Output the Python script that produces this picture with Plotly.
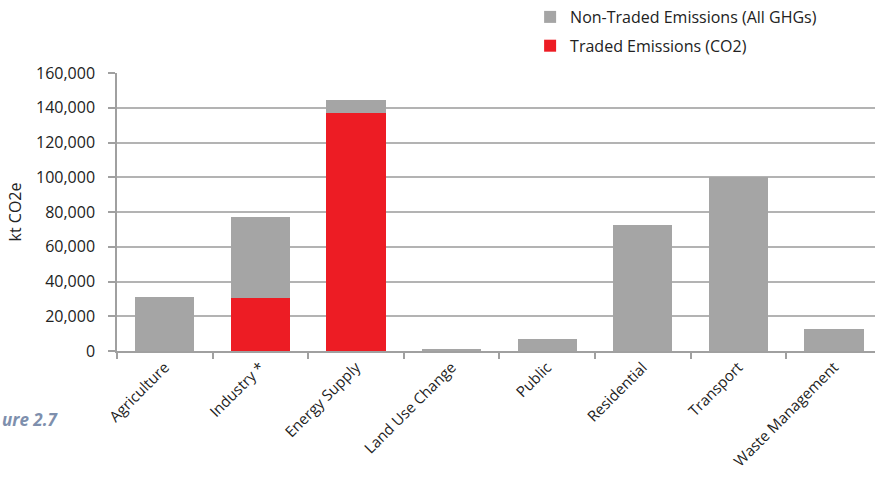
import plotly.graph_objects as go

categories = ["Agriculture", "Industry *", "Energy Supply", "Land Use Change",
              "Public", "Residential", "Transport", "Waste Management"]
traded = [0, 30300, 136800, 0, 0, 0, 0, 0]
non_traded_total = [31300, 77000, 144500, 1400, 7000, 72300, 100100, 12700]
non_traded = [t - r for t, r in zip(non_traded_total, traded)]
y_ticks = [0, 20000, 40000, 60000, 80000, 100000, 120000, 140000, 160000]

GREY = "#A5A5A5"
RED = "#ED1C24"
FONT = "Open Sans"

fig = go.Figure()
fig.add_trace(go.Bar(x=categories, y=traded, name="Traded Emissions (CO2)",
                     marker=dict(color=RED, line=dict(width=0)),
                     legendrank=2, legendgroup="b"))
fig.add_trace(go.Bar(x=categories, y=non_traded, name="Non-Traded Emissions (All GHGs)",
                     marker=dict(color=GREY, line=dict(width=0)),
                     legendrank=1, legendgroup="a"))

fig.update_layout(
    width=875, height=494,
    barmode="stack", bargap=0.38,
    paper_bgcolor="white", plot_bgcolor="white",
    margin=dict(l=117, r=0, t=73, b=143, autoexpand=False),
    font=dict(family=FONT, size=15, color="#222222"),
    legend=dict(x=0.545, y=1.0, yref="container", xanchor="left", yanchor="top",
                traceorder="grouped", tracegroupgap=5,
                font=dict(size=16, color="#222222"), itemwidth=30),
    xaxis=dict(range=[-0.5, 7.43], tickangle=-45, tickson="boundaries",
               ticks="outside", ticklen=6, tickcolor="#A0A0A0", tickwidth=1.5,
               showline=True, linecolor="#A0A0A0", linewidth=1.5,
               automargin=False, tickfont=dict(size=15, family=FONT)),
    yaxis=dict(range=[0, 160000], tickvals=y_ticks, tickformat=",",
               ticks="outside", ticklen=7, tickcolor="#A0A0A0", tickwidth=1.5,
               showline=True, linecolor="#A0A0A0", linewidth=1.5,
               showgrid=True, gridcolor="#B3B3B3", gridwidth=1.5,
               zeroline=False, automargin=False, ticklabelstandoff=10,
               tickfont=dict(size=16, family=FONT),
               title=dict(text="kt CO2e", font=dict(size=16, family=FONT), standoff=10)),
)

fig.add_annotation(text="<b><i>ure 2.7</i></b>", xref="paper", yref="paper",
                   x=-117 / 758, y=-0.248, xanchor="left", yanchor="middle", showarrow=False,
                   font=dict(size=17, color="#7E8FAD", family=FONT))

fig.write_html("out.html", config={"displayModeBar": False},
               post_script="document.body.style.margin='0';document.body.style.overflow='hidden';")
